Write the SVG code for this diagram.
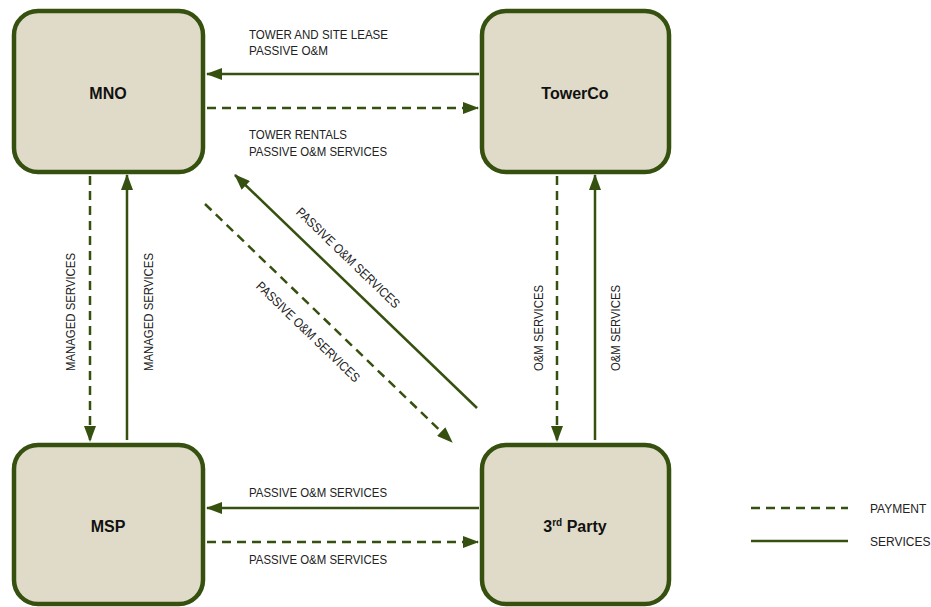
<svg xmlns="http://www.w3.org/2000/svg" width="931" height="607" viewBox="0 0 931 607">
<style>
.node rect{fill:#e0dbc8;stroke:#35500f;stroke-width:4.5}
.node text{font-family:"Liberation Sans",Arial,sans-serif;font-weight:bold;font-size:16px;fill:#111;text-anchor:middle}
.lbl{font-family:"Liberation Sans",Arial,sans-serif;font-size:13px;fill:#222}
.leg{font-family:"Liberation Sans",Arial,sans-serif;font-size:12px;fill:#222}
.s{stroke:#35500f;stroke-width:2.5;fill:none}
.d{stroke:#35500f;stroke-width:2.5;fill:none;stroke-dasharray:9 6}
</style>
<defs>
<marker id="ah" markerWidth="16" markerHeight="12" refX="15" refY="6" orient="auto" markerUnits="userSpaceOnUse">
<path d="M0,0 L16,6 L0,12 Z" fill="#35500f"/>
</marker>
</defs>
<rect width="931" height="607" fill="#fff"/>
<g id="node-mno" class="node"><rect x="14" y="11" width="189" height="161" rx="24"/><text x="108" y="99">MNO</text></g>
<g id="node-towerco" class="node"><rect x="482" y="11" width="187" height="161" rx="24"/><text x="575" y="99">TowerCo</text></g>
<g id="node-msp" class="node"><rect x="14" y="445" width="189" height="159" rx="24"/><text x="108" y="532">MSP</text></g>
<g id="node-3rd" class="node"><rect x="482" y="445" width="187" height="159" rx="24"/><text x="575" y="532">3<tspan font-size="10" dy="-6">rd</tspan><tspan dy="6"> Party</tspan></text></g>
<g id="connectors">
<line class="s" x1="479" y1="74" x2="207" y2="74" marker-end="url(#ah)"/>
<line class="d" x1="207" y1="108" x2="478" y2="108" marker-end="url(#ah)"/>
<line class="d" x1="90" y1="176" x2="90" y2="441" marker-end="url(#ah)"/>
<line class="s" x1="127" y1="440" x2="127" y2="175" marker-end="url(#ah)"/>
<line class="d" x1="557" y1="176" x2="557" y2="441" marker-end="url(#ah)"/>
<line class="s" x1="595" y1="440" x2="595" y2="175" marker-end="url(#ah)"/>
<line class="s" x1="479" y1="508" x2="207" y2="508" marker-end="url(#ah)"/>
<line class="d" x1="207" y1="542" x2="478" y2="542" marker-end="url(#ah)"/>
<line class="s" x1="477" y1="408" x2="235" y2="175" marker-end="url(#ah)"/>
<line class="d" x1="205" y1="204" x2="452" y2="442" marker-end="url(#ah)"/>
<line class="d" x1="751" y1="508" x2="848" y2="508"/>
<line class="s" x1="751" y1="541" x2="848" y2="541"/>
</g>
<g id="labels">
<text class="lbl" x="249" y="39" textLength="139" lengthAdjust="spacingAndGlyphs">TOWER AND SITE LEASE</text>
<text class="lbl" x="249" y="55" textLength="79" lengthAdjust="spacingAndGlyphs">PASSIVE O&amp;M</text>
<text class="lbl" x="249" y="139" textLength="98" lengthAdjust="spacingAndGlyphs">TOWER RENTALS</text>
<text class="lbl" x="249" y="156" textLength="138" lengthAdjust="spacingAndGlyphs">PASSIVE O&amp;M SERVICES</text>
<text class="lbl" x="249" y="497" textLength="138" lengthAdjust="spacingAndGlyphs">PASSIVE O&amp;M SERVICES</text>
<text class="lbl" x="249" y="564" textLength="138" lengthAdjust="spacingAndGlyphs">PASSIVE O&amp;M SERVICES</text>
<text class="lbl" text-anchor="middle" textLength="118" lengthAdjust="spacingAndGlyphs" transform="translate(75,312) rotate(-90)">MANAGED SERVICES</text>
<text class="lbl" text-anchor="middle" textLength="118" lengthAdjust="spacingAndGlyphs" transform="translate(153,312) rotate(-90)">MANAGED SERVICES</text>
<text class="lbl" text-anchor="middle" textLength="86" lengthAdjust="spacingAndGlyphs" transform="translate(543,328) rotate(-90)">O&amp;M SERVICES</text>
<text class="lbl" text-anchor="middle" textLength="86" lengthAdjust="spacingAndGlyphs" transform="translate(620,328) rotate(-90)">O&amp;M SERVICES</text>
<text class="lbl" text-anchor="middle" textLength="138" lengthAdjust="spacingAndGlyphs" transform="translate(345,261) rotate(44)">PASSIVE O&amp;M SERVICES</text>
<text class="lbl" text-anchor="middle" textLength="138" lengthAdjust="spacingAndGlyphs" transform="translate(305,335) rotate(44)">PASSIVE O&amp;M SERVICES</text>
<text class="leg" x="870" y="513">PAYMENT</text>
<text class="leg" x="870" y="546">SERVICES</text>
</g>
</svg>
